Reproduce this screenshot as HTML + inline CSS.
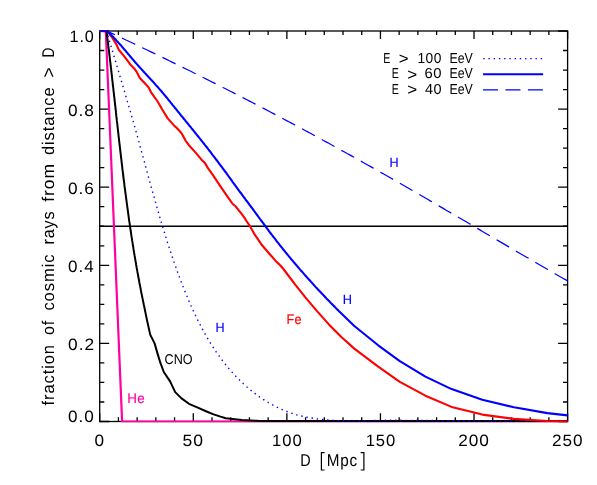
<!DOCTYPE html>
<html><head><meta charset="utf-8"><title>plot</title>
<style>
html,body{margin:0;padding:0;background:#fff;}
body{width:597px;height:485px;overflow:hidden;}
svg{display:block;will-change:transform;}
text{font-family:"Liberation Sans",sans-serif;fill:#000;text-rendering:geometricPrecision;}
</style></head><body>
<svg width="597" height="485" viewBox="0 0 597 485">
<rect width="597" height="485" fill="#fff"/>
<rect x="99.7" y="31.0" width="467.9" height="390.5" fill="none" stroke="#000" stroke-width="1.3"/>
<path d="M99.70,421.50 v-8.3 M99.70,31.00 v8.0 M118.42,421.50 v-4.2 M118.42,31.00 v4.0 M137.13,421.50 v-4.2 M137.13,31.00 v4.0 M155.85,421.50 v-4.2 M155.85,31.00 v4.0 M174.56,421.50 v-4.2 M174.56,31.00 v4.0 M193.28,421.50 v-8.3 M193.28,31.00 v8.0 M212.00,421.50 v-4.2 M212.00,31.00 v4.0 M230.71,421.50 v-4.2 M230.71,31.00 v4.0 M249.43,421.50 v-4.2 M249.43,31.00 v4.0 M268.14,421.50 v-4.2 M268.14,31.00 v4.0 M286.86,421.50 v-8.3 M286.86,31.00 v8.0 M305.58,421.50 v-4.2 M305.58,31.00 v4.0 M324.29,421.50 v-4.2 M324.29,31.00 v4.0 M343.01,421.50 v-4.2 M343.01,31.00 v4.0 M361.72,421.50 v-4.2 M361.72,31.00 v4.0 M380.44,421.50 v-8.3 M380.44,31.00 v8.0 M399.16,421.50 v-4.2 M399.16,31.00 v4.0 M417.87,421.50 v-4.2 M417.87,31.00 v4.0 M436.59,421.50 v-4.2 M436.59,31.00 v4.0 M455.30,421.50 v-4.2 M455.30,31.00 v4.0 M474.02,421.50 v-8.3 M474.02,31.00 v8.0 M492.74,421.50 v-4.2 M492.74,31.00 v4.0 M511.45,421.50 v-4.2 M511.45,31.00 v4.0 M530.17,421.50 v-4.2 M530.17,31.00 v4.0 M548.88,421.50 v-4.2 M548.88,31.00 v4.0 M567.60,421.50 v-8.3 M567.60,31.00 v8.0 M99.70,421.50 h9.5 M567.60,421.50 h-9.5 M99.70,401.98 h4.6 M567.60,401.98 h-4.6 M99.70,382.45 h4.6 M567.60,382.45 h-4.6 M99.70,362.93 h4.6 M567.60,362.93 h-4.6 M99.70,343.40 h9.5 M567.60,343.40 h-9.5 M99.70,323.88 h4.6 M567.60,323.88 h-4.6 M99.70,304.35 h4.6 M567.60,304.35 h-4.6 M99.70,284.82 h4.6 M567.60,284.82 h-4.6 M99.70,265.30 h9.5 M567.60,265.30 h-9.5 M99.70,245.78 h4.6 M567.60,245.78 h-4.6 M99.70,226.25 h4.6 M567.60,226.25 h-4.6 M99.70,206.72 h4.6 M567.60,206.72 h-4.6 M99.70,187.20 h9.5 M567.60,187.20 h-9.5 M99.70,167.67 h4.6 M567.60,167.67 h-4.6 M99.70,148.15 h4.6 M567.60,148.15 h-4.6 M99.70,128.62 h4.6 M567.60,128.62 h-4.6 M99.70,109.10 h9.5 M567.60,109.10 h-9.5 M99.70,89.57 h4.6 M567.60,89.57 h-4.6 M99.70,70.05 h4.6 M567.60,70.05 h-4.6 M99.70,50.52 h4.6 M567.60,50.52 h-4.6 M99.70,31.00 h9.5 M567.60,31.00 h-9.5" stroke="#000" stroke-width="1.3" fill="none"/>
<path d="M99.7,226.25 H567.6" stroke="#000" stroke-width="1.3" fill="none"/>
<clipPath id="pc"><rect x="99.05" y="30.45" width="469.20" height="392.05"/></clipPath>
<g fill="none" stroke-linejoin="round" stroke-linecap="butt" clip-path="url(#pc)">
<path d="M99.7,31.0 L105.8,31.0 L122.1,421.5 L567.6,421.5" stroke="#ff00a0" stroke-width="2.2"/>
<path d="M99.7,31.0 L106.5,31.0 L106.7,32.5 L106.9,34.0 L107.1,35.5 L107.2,36.9 L107.4,38.4 L107.6,39.9 L107.8,41.4 L108.0,42.9 L108.2,44.4 L108.3,45.9 L108.5,47.4 L108.7,48.8 L108.9,50.3 L109.1,51.8 L109.2,53.3 L109.4,54.8 L109.6,56.3 L109.8,57.8 L109.9,59.3 L110.1,60.8 L110.3,62.2 L110.5,63.7 L110.6,65.2 L110.8,66.7 L111.0,68.2 L111.2,69.7 L111.3,71.2 L111.5,72.7 L111.7,74.2 L111.8,75.7 L112.0,77.1 L112.2,78.6 L112.3,80.1 L112.5,81.6 L112.7,83.1 L112.8,84.6 L113.0,86.1 L113.2,87.6 L113.4,89.1 L113.5,90.6 L113.7,92.1 L113.9,93.5 L114.0,95.0 L114.2,96.5 L114.4,98.0 L114.5,99.5 L114.7,101.0 L114.9,102.5 L115.0,104.0 L115.2,105.5 L115.4,107.0 L115.5,108.5 L115.7,109.9 L115.9,111.4 L116.0,112.9 L116.2,114.4 L116.3,115.9 L116.5,117.4 L116.7,118.9 L116.8,120.4 L117.0,121.9 L117.2,123.4 L117.4,124.9 L117.5,126.3 L117.7,127.8 L117.9,129.3 L118.0,130.8 L118.2,132.3 L118.4,133.8 L118.5,135.3 L118.7,136.8 L118.9,138.3 L119.0,139.8 L119.2,141.3 L119.4,142.7 L119.5,144.2 L119.7,145.7 L119.9,147.2 L120.1,148.7 L120.2,150.2 L120.4,151.7 L120.6,153.2 L120.8,154.7 L120.9,156.2 L121.1,157.7 L121.3,159.1 L121.5,160.6 L121.6,162.1 L121.8,163.6 L122.0,165.1 L122.2,166.6 L122.3,168.1 L122.5,169.6 L122.7,171.1 L122.9,172.5 L123.1,174.0 L123.2,175.5 L123.4,177.0 L123.6,178.5 L123.8,180.0 L124.0,181.5 L124.2,183.0 L124.4,184.5 L124.5,185.9 L124.7,187.4 L124.9,188.9 L125.1,190.4 L125.3,191.9 L125.5,193.4 L125.7,194.9 L125.9,196.4 L126.1,197.8 L126.3,199.3 L126.5,200.8 L126.7,202.3 L126.9,203.8 L127.1,205.3 L127.3,206.8 L127.5,208.2 L127.7,209.7 L127.9,211.2 L128.1,212.7 L128.3,214.2 L128.5,215.7 L128.7,217.1 L128.9,218.6 L129.1,220.1 L129.3,221.6 L129.6,223.1 L129.8,224.6 L130.0,226.0 L130.2,227.5 L130.4,229.0 L130.7,230.5 L130.9,232.0 L131.1,233.5 L131.3,234.9 L131.5,236.4 L131.8,237.9 L132.0,239.4 L132.2,240.9 L132.5,242.3 L132.7,243.8 L132.9,245.3 L133.2,246.8 L133.4,248.3 L133.6,249.7 L133.9,251.2 L134.1,252.7 L134.4,254.2 L134.6,255.7 L134.9,257.1 L135.1,258.6 L135.4,260.1 L135.6,261.6 L135.9,263.0 L136.1,264.5 L136.4,266.0 L136.6,267.5 L136.9,268.9 L137.2,270.4 L137.4,271.9 L137.7,273.4 L138.0,274.8 L138.2,276.3 L138.5,277.8 L138.8,279.3 L139.1,280.7 L139.3,282.2 L139.6,283.7 L139.9,285.1 L140.2,286.6 L140.5,288.1 L140.8,289.6 L141.0,291.0 L141.3,292.5 L141.6,294.0 L141.9,295.4 L142.2,296.9 L142.5,298.4 L142.8,299.8 L143.1,301.3 L143.4,302.8 L143.7,304.2 L143.9,305.0 L147.0,320.1 L150.2,334.6 L154.6,343.4 L157.7,354.1 L160.5,363.2 L163.8,372.0 L170.1,381.4 L175.2,392.1 L181.5,398.4 L189.0,403.8 L197.8,407.6 L205.4,411.0 L212.9,414.1 L220.5,416.6 L225.9,418.2 L241.8,420.1 L257.7,420.8 L268.0,421.0 L567.6,421.0" stroke="#000" stroke-width="2.0"/>
<path d="M99.7,31.0 L106.6,31.0 L107.0,32.4 L107.4,33.9 L107.8,35.3 L108.3,36.8 L108.7,38.2 L109.1,39.6 L109.5,41.1 L109.9,42.5 L110.3,44.0 L110.8,45.4 L111.2,46.8 L111.6,48.3 L112.0,49.7 L112.5,51.2 L112.9,52.6 L113.3,54.0 L113.7,55.5 L114.2,56.9 L114.6,58.4 L115.0,59.8 L115.5,61.2 L115.9,62.7 L116.3,64.1 L116.7,65.6 L117.2,67.0 L117.6,68.4 L118.0,69.9 L118.5,71.3 L118.9,72.8 L119.3,74.2 L119.7,75.6 L120.2,77.1 L120.6,78.5 L121.0,80.0 L121.5,81.4 L121.9,82.8 L122.3,84.3 L122.8,85.7 L123.2,87.2 L123.6,88.6 L124.0,90.0 L124.5,91.5 L124.9,92.9 L125.3,94.3 L125.7,95.8 L126.2,97.2 L126.6,98.7 L127.0,100.1 L127.4,101.5 L127.9,103.0 L128.3,104.4 L128.7,105.9 L129.1,107.3 L129.5,108.7 L130.0,110.2 L130.4,111.6 L130.8,113.0 L131.2,114.5 L131.6,115.9 L132.0,117.4 L132.4,118.8 L132.8,120.2 L133.3,121.7 L133.7,123.1 L134.1,124.6 L134.5,126.0 L134.9,127.4 L135.3,128.9 L135.7,130.3 L136.1,131.7 L136.5,133.2 L136.9,134.6 L137.3,136.1 L137.7,137.5 L138.1,138.9 L138.5,140.4 L138.9,141.8 L139.3,143.2 L139.6,144.7 L140.0,146.1 L140.4,147.6 L140.8,149.0 L141.2,150.4 L141.6,151.9 L142.0,153.3 L142.4,154.7 L142.8,156.2 L143.2,157.6 L143.6,159.1 L144.0,160.5 L144.4,161.9 L144.7,163.4 L145.1,164.8 L145.5,166.2 L145.9,167.7 L146.3,169.1 L146.7,170.6 L147.1,172.0 L147.5,173.4 L147.9,174.9 L148.3,176.3 L148.7,177.7 L149.1,179.2 L149.5,180.6 L149.9,182.1 L150.3,183.5 L150.7,184.9 L151.0,186.4 L151.4,187.8 L151.8,189.2 L152.2,190.7 L152.6,192.1 L153.0,193.5 L153.4,195.0 L153.9,196.4 L154.3,197.9 L154.7,199.3 L155.1,200.7 L155.5,202.2 L155.9,203.6 L156.3,205.0 L156.7,206.5 L157.1,207.9 L157.5,209.3 L157.9,210.8 L158.4,212.2 L158.8,213.7 L159.2,215.1 L159.6,216.5 L160.0,218.0 L160.5,219.4 L160.9,220.8 L161.3,222.3 L161.8,223.7 L162.2,225.1 L162.6,226.6 L163.1,228.0 L163.5,229.5 L163.9,230.9 L164.4,232.3 L164.8,233.8 L165.3,235.2 L165.7,236.6 L166.2,238.1 L166.6,239.5 L167.1,240.9 L167.5,242.4 L168.0,243.8 L168.4,245.2 L168.9,246.7 L169.4,248.1 L169.8,249.6 L170.3,251.0 L170.8,252.4 L171.3,253.9 L171.7,255.3 L172.2,256.7 L172.7,258.2 L173.2,259.6 L173.7,261.0 L174.2,262.5 L174.7,263.9 L175.2,265.3 L175.7,266.8 L176.2,268.2 L176.7,269.6 L177.2,271.1 L177.7,272.5 L178.2,273.9 L178.8,275.3 L179.3,276.8 L179.8,278.2 L180.3,279.6 L180.9,281.0 L181.4,282.4 L182.0,283.9 L182.5,285.3 L183.1,286.7 L183.6,288.1 L184.2,289.5 L184.8,290.9 L185.3,292.3 L185.9,293.7 L186.5,295.1 L187.1,296.5 L187.6,297.9 L188.2,299.3 L188.8,300.7 L189.4,302.1 L190.0,303.5 L190.6,304.9 L191.2,306.2 L191.9,307.6 L192.5,309.0 L193.1,310.4 L193.7,311.7 L194.4,313.1 L195.0,314.4 L195.7,315.8 L196.3,317.2 L197.0,318.5 L197.6,319.8 L198.3,321.2 L199.0,322.5 L199.7,323.9 L200.4,325.2 L201.0,326.5 L201.7,327.8 L202.4,329.2 L203.2,330.5 L203.9,331.8 L204.6,333.1 L205.3,334.4 L206.1,335.7 L206.8,337.0 L207.6,338.3 L208.3,339.5 L209.1,340.8 L209.9,342.1 L210.6,343.4 L211.4,344.6 L212.2,345.9 L213.0,347.1 L213.8,348.4 L214.6,349.6 L215.5,350.8 L216.3,352.1 L217.2,353.3 L218.0,354.5 L218.9,355.7 L219.7,356.9 L220.6,358.1 L221.5,359.3 L222.4,360.5 L223.3,361.7 L224.2,362.9 L225.2,364.0 L226.1,365.2 L227.0,366.3 L228.0,367.5 L228.9,368.6 L229.9,369.8 L230.9,370.9 L231.9,372.0 L232.9,373.1 L233.9,374.2 L234.9,375.3 L236.0,376.4 L237.0,377.5 L238.0,378.6 L239.1,379.6 L240.2,380.7 L241.2,381.7 L242.3,382.7 L243.4,383.8 L244.5,384.8 L245.6,385.8 L246.7,386.8 L247.9,387.7 L249.0,388.7 L250.1,389.7 L251.3,390.6 L252.5,391.5 L253.6,392.5 L254.8,393.4 L256.0,394.3 L257.2,395.1 L258.4,396.0 L259.6,396.9 L260.8,397.7 L262.1,398.5 L263.3,399.4 L264.5,400.2 L265.8,401.0 L267.0,401.7 L268.3,402.5 L269.6,403.2 L270.9,404.0 L272.2,404.7 L273.5,405.4 L274.8,406.1 L276.1,406.7 L277.4,407.4 L278.7,408.0 L280.1,408.7 L281.4,409.3 L282.8,409.8 L284.1,410.4 L285.5,411.0 L286.9,411.5 L288.2,412.0 L289.6,412.5 L291.0,413.0 L292.4,413.5 L293.8,413.9 L295.3,414.3 L296.7,414.8 L298.1,415.2 L299.5,415.5 L301.0,415.9 L302.4,416.2 L303.9,416.6 L305.3,416.9 L306.8,417.2 L308.3,417.5 L309.7,417.7 L311.2,418.0 L312.7,418.2 L314.2,418.5 L315.7,418.7 L317.2,418.9 L318.7,419.1 L320.2,419.3 L321.7,419.4 L323.2,419.6 L324.7,419.7 L326.2,419.9 L327.7,420.0 L329.2,420.1 L330.8,420.2 L332.3,420.3 L333.8,420.4 L335.3,420.5 L336.9,420.5 L338.4,420.6 L339.9,420.7 L341.5,420.7 L343.0,420.7 L344.5,420.8 L346.1,420.8 L347.6,420.8 L349.1,420.8 L350.7,420.9 L352.2,420.9 L353.8,420.9 L355.3,420.9 L356.8,420.8 L358.4,420.8 L359.9,420.8 L361.4,420.8 L362.9,420.8 L364.5,420.8 L366.0,420.7 L367.5,420.7 L369.0,420.7 L370.6,420.6 L372.1,420.6 L373.6,420.6 L375.1,420.5 L376.6,420.5 L378.1,420.5 L379.6,420.4 L381.1,420.4 L382.6,420.4 L384.1,420.4 L385.6,420.3 L387.1,420.3 L388.5,420.3 L390.0,420.3 L391.5,420.3 L392.9,420.3 L394.4,420.3 L395.8,420.3 L397.3,420.3 L398.7,420.3 L400.0,420.3 L480.0,420.9 L567.6,421.3" stroke="#0000ff" stroke-width="1.4" stroke-dasharray="1.4 3.83" stroke-dashoffset="-1.3"/>
<path d="M99.7,31.0 L107.2,31.2 L112.6,38.1 L116.4,44.4 L118.9,50.0 L123.3,55.1 L127.1,60.1 L130.8,65.1 L134.6,68.9 L137.1,72.7 L139.8,78.0 L144.8,83.3 L148.4,87.1 L151.3,92.7 L157.6,101.5 L162.7,110.3 L167.7,118.4 L174.0,125.4 L176.3,127.6 L179.6,131.0 L182.0,133.9 L185.7,140.8 L188.9,145.2 L195.2,152.1 L201.5,159.7 L205.0,163.1 L207.8,167.9 L213.3,175.6 L220.1,185.8 L227.0,195.9 L232.7,204.0 L235.6,206.3 L240.2,212.2 L244.4,217.6 L246.5,221.0 L250.1,226.4 L255.1,235.2 L262.1,245.3 L269.8,254.2 L275.3,260.4 L280.9,266.0 L283.8,269.5 L295.2,284.6 L305.8,297.9 L316.8,310.9 L328.9,324.4 L341.6,337.2 L354.3,348.6 L378.2,366.7 L399.8,381.8 L425.4,395.7 L451.6,406.9 L482.3,414.6 L514.0,418.9 L547.4,421.0 L567.6,421.5" stroke="#ff0000" stroke-width="2.1"/>
<path d="M99.7,31.0 L106.9,31.0 L109.6,32.3 L112.4,33.6 L115.1,34.8 L117.8,36.1 L120.5,37.4 L123.3,38.7 L126.0,40.0 L128.7,41.2 L131.4,42.5 L134.1,43.8 L136.8,45.1 L139.6,46.4 L142.3,47.7 L145.0,49.0 L147.7,50.3 L150.4,51.6 L153.1,52.9 L155.8,54.2 L158.5,55.5 L161.2,56.8 L163.9,58.1 L166.6,59.4 L169.3,60.8 L172.0,62.1 L174.7,63.4 L177.4,64.7 L180.1,66.0 L182.8,67.4 L185.4,68.7 L188.1,70.0 L190.8,71.3 L193.5,72.7 L196.2,74.0 L198.9,75.3 L201.5,76.7 L204.2,78.0 L206.9,79.4 L209.6,80.7 L212.2,82.1 L214.9,83.4 L217.6,84.8 L220.3,86.1 L222.9,87.5 L225.6,88.8 L228.3,90.2 L230.9,91.5 L233.6,92.9 L236.3,94.3 L238.9,95.6 L241.6,97.0 L244.2,98.4 L246.9,99.7 L249.5,101.1 L252.2,102.5 L254.9,103.9 L257.5,105.3 L260.2,106.6 L262.8,108.0 L265.5,109.4 L268.1,110.8 L270.8,112.2 L273.4,113.6 L276.1,115.0 L278.7,116.4 L281.3,117.8 L284.0,119.2 L286.6,120.6 L289.3,122.0 L291.9,123.4 L294.5,124.8 L297.2,126.2 L299.8,127.6 L302.5,129.0 L305.1,130.5 L307.7,131.9 L310.4,133.3 L313.0,134.7 L315.6,136.2 L318.3,137.6 L320.9,139.0 L323.5,140.5 L326.1,141.9 L328.8,143.3 L331.4,144.8 L334.0,146.2 L336.6,147.7 L339.3,149.1 L341.9,150.6 L344.5,152.0 L347.1,153.5 L349.7,154.9 L352.4,156.4 L355.0,157.8 L357.6,159.3 L360.2,160.8 L362.8,162.2 L365.4,163.7 L368.1,165.2 L370.7,166.6 L373.3,168.1 L375.9,169.6 L378.5,171.1 L381.1,172.6 L383.7,174.0 L386.3,175.5 L389.0,177.0 L391.6,178.5 L394.2,180.0 L396.8,181.5 L399.4,183.0 L402.0,184.5 L404.6,186.0 L407.2,187.5 L409.8,189.0 L412.4,190.5 L415.0,192.0 L417.6,193.5 L420.2,195.0 L422.8,196.5 L425.4,198.0 L428.0,199.5 L430.6,201.1 L433.2,202.6 L435.8,204.1 L438.4,205.6 L441.0,207.1 L443.6,208.6 L446.2,210.2 L448.8,211.7 L451.4,213.2 L454.0,214.7 L456.6,216.2 L459.2,217.8 L461.8,219.3 L464.4,220.8 L467.0,222.3 L469.6,223.8 L472.2,225.4 L474.8,226.9 L477.4,228.4 L479.9,229.9 L482.5,231.5 L485.1,233.0 L487.7,234.5 L490.3,236.0 L492.9,237.5 L495.5,239.1 L498.1,240.6 L500.7,242.1 L503.3,243.6 L505.9,245.1 L508.4,246.6 L511.0,248.2 L513.6,249.7 L516.2,251.2 L518.8,252.7 L521.4,254.2 L524.0,255.7 L526.6,257.2 L529.2,258.7 L531.7,260.2 L534.3,261.7 L536.9,263.2 L539.5,264.7 L542.1,266.2 L544.7,267.7 L547.3,269.2 L549.9,270.7 L552.5,272.2 L555.0,273.7 L557.6,275.2 L560.2,276.7 L562.8,278.2 L565.4,279.6 L567.6,281.0" stroke="#0000ff" stroke-width="1.25" stroke-dasharray="14.6 7.8" stroke-dashoffset="-1.5"/>
<path d="M99.7,31.0 L107.2,31.2 L108.3,32.3 L109.5,33.3 L110.6,34.4 L111.6,35.5 L112.7,36.5 L113.8,37.6 L114.8,38.7 L115.8,39.8 L116.8,40.9 L117.8,42.0 L118.8,43.1 L119.8,44.2 L120.8,45.3 L121.8,46.4 L122.7,47.5 L123.7,48.6 L124.6,49.8 L125.6,50.9 L126.5,52.0 L127.5,53.1 L128.4,54.3 L129.4,55.4 L130.3,56.5 L131.3,57.7 L132.2,58.8 L133.2,59.9 L134.2,61.0 L135.1,62.2 L136.1,63.3 L137.1,64.4 L138.1,65.5 L139.1,66.7 L140.1,67.8 L141.2,68.9 L142.2,70.0 L143.2,71.1 L144.2,72.3 L145.3,73.4 L146.3,74.5 L147.3,75.6 L148.3,76.7 L149.4,77.8 L150.4,79.0 L151.4,80.1 L152.5,81.2 L153.5,82.3 L154.5,83.4 L155.5,84.6 L156.5,85.7 L157.5,86.8 L158.5,87.9 L159.5,89.1 L160.5,90.2 L161.5,91.3 L162.4,92.5 L163.4,93.6 L164.3,94.8 L165.3,95.9 L166.2,97.0 L167.2,98.2 L168.1,99.3 L169.0,100.5 L170.0,101.6 L170.9,102.8 L171.8,103.9 L172.7,105.1 L173.7,106.2 L174.6,107.4 L175.5,108.5 L176.5,109.7 L177.4,110.9 L178.3,112.0 L179.3,113.2 L180.2,114.3 L181.1,115.5 L182.1,116.7 L183.1,117.8 L184.0,119.0 L185.0,120.2 L185.9,121.3 L186.9,122.5 L187.8,123.6 L188.8,124.8 L189.7,126.0 L190.7,127.1 L191.6,128.3 L192.6,129.5 L193.5,130.6 L194.5,131.8 L195.4,133.0 L196.3,134.1 L197.3,135.3 L198.2,136.5 L199.1,137.6 L200.1,138.8 L201.0,140.0 L201.9,141.1 L202.9,142.3 L203.8,143.5 L204.7,144.7 L205.6,145.8 L206.6,147.0 L207.5,148.2 L208.4,149.4 L209.3,150.5 L210.2,151.7 L211.1,152.9 L212.0,154.1 L212.9,155.3 L213.8,156.4 L214.7,157.6 L215.6,158.8 L216.5,160.0 L217.4,161.2 L218.3,162.4 L219.2,163.6 L220.1,164.8 L221.0,166.0 L221.9,167.2 L222.8,168.4 L223.7,169.6 L224.6,170.8 L225.5,172.0 L226.4,173.2 L227.2,174.4 L228.1,175.6 L229.0,176.8 L229.8,178.0 L230.7,179.2 L231.6,180.4 L232.4,181.6 L233.3,182.8 L234.1,184.0 L235.0,185.2 L235.9,186.4 L236.8,187.6 L237.7,188.9 L238.6,190.1 L239.5,191.3 L240.4,192.5 L241.3,193.7 L242.2,194.9 L243.1,196.1 L244.0,197.3 L244.9,198.5 L245.8,199.8 L246.7,201.0 L247.6,202.2 L248.5,203.4 L249.4,204.6 L250.3,205.8 L251.2,207.0 L252.1,208.2 L253.0,209.4 L253.9,210.7 L254.8,211.9 L255.7,213.1 L256.6,214.3 L257.5,215.5 L258.3,216.7 L259.2,217.9 L260.1,219.1 L261.0,220.3 L261.9,221.5 L262.8,222.7 L263.7,223.9 L264.6,225.1 L265.5,226.3 L266.3,227.5 L267.2,228.7 L268.1,229.9 L269.0,231.1 L269.9,232.3 L270.8,233.5 L271.7,234.7 L272.6,235.8 L273.5,237.0 L274.5,238.2 L275.4,239.4 L276.3,240.6 L277.2,241.8 L278.1,242.9 L279.1,244.1 L280.0,245.3 L280.9,246.5 L281.9,247.6 L282.8,248.8 L283.7,250.0 L284.7,251.1 L285.6,252.3 L286.6,253.5 L287.5,254.6 L288.5,255.8 L289.4,256.9 L290.4,258.1 L291.3,259.3 L292.3,260.4 L293.3,261.6 L294.2,262.7 L295.2,263.8 L296.2,265.0 L297.2,266.1 L298.1,267.3 L299.1,268.4 L300.1,269.6 L301.1,270.7 L302.1,271.8 L303.1,272.9 L304.1,274.1 L305.0,275.2 L306.0,276.3 L307.0,277.4 L308.0,278.6 L309.1,279.7 L310.1,280.8 L311.1,281.9 L312.1,283.0 L313.1,284.1 L314.1,285.2 L315.1,286.4 L316.1,287.5 L317.2,288.6 L318.2,289.7 L319.2,290.8 L320.2,291.8 L321.3,292.9 L322.3,294.0 L323.3,295.1 L324.4,296.2 L325.4,297.3 L326.4,298.4 L327.5,299.5 L328.5,300.5 L329.6,301.6 L330.6,302.7 L331.6,303.7 L332.7,304.8 L333.7,305.9 L334.8,306.9 L335.8,308.0 L336.9,309.1 L338.0,310.1 L339.0,311.2 L339.6,311.7 L354.3,326.0 L378.2,345.3 L399.8,361.2 L425.4,376.6 L451.6,389.1 L482.3,399.7 L514.0,407.3 L547.4,413.1 L567.6,415.4" stroke="#0000ff" stroke-width="2.1"/>
</g>
<g fill="none">
<path d="M483.2,58.6 H543.1" stroke="#0000ff" stroke-width="1.4" stroke-dasharray="1.4 3.83"/>
<path d="M483,74.2 H543.1" stroke="#0000ff" stroke-width="2.1"/>
<path d="M483,89.9 H543.1" stroke="#0000ff" stroke-width="1.3" stroke-dasharray="15 7.45"/>
</g>
<text transform="translate(383.23,62.65) scale(0.735,1.000)" style="font-size:14.5px;fill:#000;">E</text>
<text transform="translate(398.78,63.92) scale(1.157,1.131)" style="font-size:14.5px;fill:#000;">&gt;</text>
<text transform="translate(417.48,62.52) scale(0.949,1.000)" style="font-size:14.5px;fill:#000;letter-spacing:0.5px;">100</text>
<text transform="translate(449.39,62.52) scale(0.852,1.000)" style="font-size:14.5px;fill:#000;">EeV</text>
<text transform="translate(391.73,78.35) scale(0.735,1.000)" style="font-size:14.5px;fill:#000;">E</text>
<text transform="translate(407.27,79.62) scale(1.171,1.131)" style="font-size:14.5px;fill:#000;">&gt;</text>
<text transform="translate(424.48,78.23) scale(1.023,1.000)" style="font-size:14.5px;fill:#000;letter-spacing:0.5px;">60</text>
<text transform="translate(449.39,78.23) scale(0.852,1.000)" style="font-size:14.5px;fill:#000;">EeV</text>
<text transform="translate(391.73,94.05) scale(0.735,1.000)" style="font-size:14.5px;fill:#000;">E</text>
<text transform="translate(407.27,95.32) scale(1.171,1.131)" style="font-size:14.5px;fill:#000;">&gt;</text>
<text transform="translate(424.88,93.93) scale(0.998,1.000)" style="font-size:14.5px;fill:#000;letter-spacing:0.5px;">40</text>
<text transform="translate(449.39,93.93) scale(0.852,1.000)" style="font-size:14.5px;fill:#000;">EeV</text>
<text transform="translate(300.18,466.45) scale(0.849,1.000)" style="font-size:17px;fill:#000;">D</text>
<text transform="translate(326.82,466.15) scale(0.897,1.000)" style="font-size:17px;fill:#000;letter-spacing:0.8px;">Mpc</text>
<text transform="translate(389.61,167.45) scale(0.955,1.000)" style="font-size:13.2px;fill:#0000ff;stroke:#0000ff;stroke-width:0.15;">H</text>
<text transform="translate(342.70,304.35) scale(0.968,1.000)" style="font-size:13.2px;fill:#0000ff;stroke:#0000ff;stroke-width:0.15;">H</text>
<text transform="translate(215.41,331.75) scale(0.955,1.000)" style="font-size:13.2px;fill:#0000ff;stroke:#0000ff;stroke-width:0.15;">H</text>
<text transform="translate(286.44,324.12) scale(0.906,1.000)" style="font-size:14px;fill:#ff0000;letter-spacing:0.3px;stroke:#ff0000;stroke-width:0.15;">Fe</text>
<text transform="translate(164.58,363.72) scale(0.890,1.000)" style="font-size:14.2px;fill:#000;">CNO</text>
<text transform="translate(127.19,403.12) scale(0.955,1.000)" style="font-size:14px;fill:#ff00a0;letter-spacing:0.3px;stroke:#ff00a0;stroke-width:0.15;">He</text>
<text transform="translate(94.40,445.82) scale(1.041,1.000)" style="font-size:16.5px;fill:#000;letter-spacing:0.9px;">0</text>
<text transform="translate(182.55,445.82) scale(1.063,1.000)" style="font-size:16.5px;fill:#000;letter-spacing:0.9px;">50</text>
<text transform="translate(272.09,445.82) scale(1.008,1.000)" style="font-size:16.5px;fill:#000;letter-spacing:0.9px;">100</text>
<text transform="translate(365.69,445.82) scale(1.008,1.000)" style="font-size:16.5px;fill:#000;letter-spacing:0.9px;">150</text>
<text transform="translate(458.24,445.82) scale(1.045,1.000)" style="font-size:16.5px;fill:#000;letter-spacing:0.9px;">200</text>
<text transform="translate(551.94,445.82) scale(1.041,1.000)" style="font-size:16.5px;fill:#000;letter-spacing:0.9px;">250</text>
<text transform="translate(69.53,42.12) scale(0.979,1.000)" style="font-size:16.5px;fill:#000;letter-spacing:0.9px;">1.0</text>
<text transform="translate(68.10,115.62) scale(1.044,1.000)" style="font-size:16.5px;fill:#000;letter-spacing:0.9px;">0.8</text>
<text transform="translate(68.10,193.83) scale(1.044,1.000)" style="font-size:16.5px;fill:#000;letter-spacing:0.9px;">0.6</text>
<text transform="translate(68.10,272.02) scale(1.033,1.000)" style="font-size:16.5px;fill:#000;letter-spacing:0.9px;">0.4</text>
<text transform="translate(68.09,350.32) scale(1.049,1.000)" style="font-size:16.5px;fill:#000;letter-spacing:0.9px;">0.2</text>
<text transform="translate(68.10,422.02) scale(1.038,1.000)" style="font-size:16.5px;fill:#000;letter-spacing:0.9px;">0.0</text>
<text transform="translate(54.00,405.39) rotate(-90) scale(0.973,1.000)" style="font-size:17px;letter-spacing:0.9px;">fraction</text>
<text transform="translate(54.00,335.05) rotate(-90) scale(0.939,1.000)" style="font-size:17px;letter-spacing:0.9px;">of</text>
<text transform="translate(54.00,310.58) rotate(-90) scale(0.978,1.000)" style="font-size:17px;letter-spacing:0.9px;">cosmic</text>
<text transform="translate(54.00,244.62) rotate(-90) scale(0.954,1.000)" style="font-size:17px;letter-spacing:0.9px;">rays</text>
<text transform="translate(54.00,201.71) rotate(-90) scale(1.026,1.000)" style="font-size:17px;letter-spacing:0.9px;">from</text>
<text transform="translate(54.00,155.08) rotate(-90) scale(0.972,1.000)" style="font-size:17px;letter-spacing:0.9px;">distance</text>
<text transform="translate(54.97,77.67) rotate(-90) scale(1.055,1.106)" style="font-size:17px;">&gt;</text>
<text transform="translate(54.00,57.55) rotate(-90) scale(0.800,1.000)" style="font-size:17px;">D</text>
<path d="M324.6,452.7 H321.4 V470 H324.6 M360.7,452.7 H363.9 V470 H360.7" stroke="#000" stroke-width="1.2" fill="none"/>
</svg>
</body></html>
